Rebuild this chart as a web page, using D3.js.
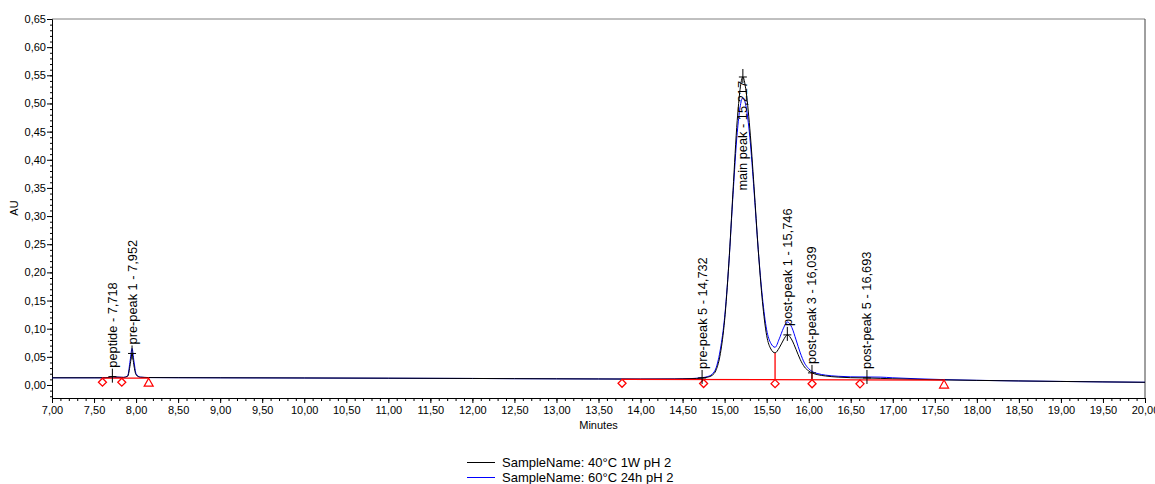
<!DOCTYPE html>
<html>
<head>
<meta charset="utf-8">
<script src="https://cdn.jsdelivr.net/npm/d3@7"></script>
<style>
body { margin: 0; background: #fff; }
text { font-family: "Liberation Sans", Arial, sans-serif; }
</style>
</head>
<body>
<div id="chart"></div>
<script>

// retention times (minutes) shared by both traces
var times = [7.00, 7.50, 7.60, 7.68, 7.718, 7.76, 7.85, 7.90, 7.93, 7.952, 7.975, 8.00, 8.05, 8.15, 8.50,
    9.00, 10.00, 11.00, 12.00, 12.50, 13.00, 13.50, 14.00, 14.40, 14.60, 14.732, 14.80, 14.85, 14.90,
    14.95, 15.00, 15.05, 15.10, 15.15, 15.217, 15.25, 15.30, 15.35, 15.40, 15.45, 15.50, 15.55, 15.60,
    15.65, 15.70, 15.746, 15.80, 15.85, 15.90, 15.95, 16.00, 16.039, 16.10, 16.20, 16.35, 16.50, 16.693,
    16.85, 17.00, 17.30, 17.62, 18.00, 18.50, 19.00, 19.50, 20.00];

// AU, SampleName: 40°C 1W pH 2
var black40 = [0.0128, 0.0128, 0.0128, 0.0135, 0.0148, 0.0140, 0.0135, 0.0155, 0.0360, 0.0560, 0.0340, 0.0180, 0.0138, 0.0132, 0.0130,
    0.0128, 0.0125, 0.0121, 0.0116, 0.0113, 0.0110, 0.0107, 0.0105, 0.0106, 0.0112, 0.0125, 0.0140, 0.0170, 0.0270,
    0.0560, 0.1150, 0.2150, 0.3450, 0.4700, 0.5470, 0.5270, 0.4550, 0.3520, 0.2400, 0.1480, 0.0880, 0.0640, 0.0570,
    0.0660, 0.0800, 0.0890, 0.0800, 0.0630, 0.0450, 0.0320, 0.0250, 0.0215, 0.0185, 0.0160, 0.0140, 0.0130, 0.0125,
    0.0118, 0.0110, 0.0100, 0.0090, 0.0082, 0.0072, 0.0063, 0.0055, 0.0048];

// AU, SampleName: 60°C 24h pH 2
var blue60 = [0.0128, 0.0128, 0.0128, 0.0133, 0.0145, 0.0140, 0.0135, 0.0165, 0.0440, 0.0650, 0.0420, 0.0200, 0.0140, 0.0132, 0.0130,
    0.0128, 0.0124, 0.0120, 0.0116, 0.0112, 0.0110, 0.0107, 0.0105, 0.0107, 0.0114, 0.0130, 0.0150, 0.0190, 0.0310,
    0.0640, 0.1200, 0.2150, 0.3380, 0.4480, 0.5100, 0.4980, 0.4400, 0.3450, 0.2400, 0.1550, 0.0980, 0.0740, 0.0670,
    0.0820, 0.1010, 0.1120, 0.1020, 0.0800, 0.0570, 0.0390, 0.0290, 0.0240, 0.0205, 0.0175, 0.0155, 0.0145, 0.0142,
    0.0140, 0.0128, 0.0110, 0.0095, 0.0083, 0.0072, 0.0063, 0.0055, 0.0048];

// peak annotations
var peakNames = ["peptide", "pre-peak 1", "pre-peak 5", "main peak", "post-peak 1", "post-peak 3", "post-peak 5"];
var peakTimes = [7.718, 7.952, 14.732, 15.217, 15.746, 16.039, 16.693];
var peakHeights = [0.0148, 0.0560, 0.0125, 0.5470, 0.0890, 0.0215, 0.0125];

// integration baselines (red)
var baseStart = [7.60, 13.78];
var baseEnd = [8.15, 17.62];
var baseStartVal = [0.0121, 0.0101];
var baseEndVal = [0.0121, 0.0088];

// drop lines from baseline to the valley
var dropTimes = [15.60, 16.039];
var dropTops = [0.0570, 0.0215];

// start / end markers
var diamondTimes = [7.60, 7.83, 13.78, 14.75, 15.60, 16.04, 16.61];
var triangleTimes = [8.15, 17.61];

var legendNames = ["SampleName: 40°C 1W pH 2", "SampleName: 60°C 24h pH 2"];
var legendColors = ["#000000", "#0000ff"];

var xMajor = d3.range(14, 41).map(function(i) { return i / 2; });
var xMinor = d3.range(70, 201).map(function(i) { return i / 10; });
var yMajor = d3.range(0, 14).map(function(i) { return i * 0.05; });
var yMinor = d3.range(-2, 66).map(function(i) { return i / 100; });

var margin = {top: 19, right: 10, bottom: 86, left: 52};
var width = 1155 - margin.left - margin.right,
    height = 484 - margin.top - margin.bottom;

var svg = d3.select("#chart").append("svg")
    .attr("width", 1155)
    .attr("height", 484);

var g = svg.append("g")
    .attr("transform", "translate(" + margin.left + "," + margin.top + ")");

var x = d3.scaleLinear().domain([7, 20]).range([0, width]);
var y = d3.scaleLinear().domain([-0.0231, 0.65]).range([height, 0]);

var comma = d3.formatLocale({decimal: ",", thousands: ".", grouping: [3], currency: ["", ""]});
var fmt2 = comma.format(".2f");
var fmt3 = comma.format(".3f");

// frame
g.append("line").attr("x1", 0).attr("x2", width).attr("y1", 0).attr("y2", 0)
    .attr("stroke", "#808080");
g.append("line").attr("x1", width).attr("x2", width).attr("y1", 0).attr("y2", height)
    .attr("stroke", "#404040");

// axes
g.append("g")
    .call(d3.axisLeft(y).tickValues(yMinor).tickSize(2).tickSizeOuter(0).tickFormat(""));
var yAxis = g.append("g")
    .call(d3.axisLeft(y).tickValues(yMajor).tickSize(5).tickSizeOuter(0).tickPadding(1).tickFormat(fmt2));
g.append("g")
    .attr("transform", "translate(0," + height + ")")
    .call(d3.axisBottom(x).tickValues(xMinor).tickSize(3).tickSizeOuter(0).tickFormat(""));
var xAxis = g.append("g")
    .attr("transform", "translate(0," + height + ")")
    .call(d3.axisBottom(x).tickValues(xMajor).tickSize(5).tickSizeOuter(0).tickPadding(3).tickFormat(fmt2));

[yAxis, xAxis].forEach(function(a) {
    a.selectAll("text").attr("font-size", 11).attr("font-family", null).attr("fill", "#000");
});
g.selectAll(".domain, .tick line").attr("stroke", "#000");

g.append("text")
    .attr("transform", "translate(" + (14 - margin.left) + "," + (208 - margin.top) + ") rotate(-90)")
    .attr("text-anchor", "middle")
    .attr("dy", "0.35em")
    .attr("font-size", 11)
    .text("AU");

g.append("text")
    .attr("x", width / 2)
    .attr("y", 425 - margin.top)
    .attr("text-anchor", "middle")
    .attr("dy", "0.35em")
    .attr("font-size", 11)
    .text("Minutes");

// traces
var line = d3.line()
    .x(function(d) { return x(d[0]); })
    .y(function(d) { return y(d[1]); })
    .curve(d3.curveMonotoneX);

[blue60, black40].forEach(function(vals, i) {
    g.append("path")
        .datum(times.map(function(t, j) { return [t, vals[j]]; }))
        .attr("fill", "none")
        .attr("stroke", i == 0 ? "#0000ff" : "#000000")
        .attr("stroke-width", 1)
        .attr("d", line);
});

// baselines
function baseAt(t) {
    for (var i = 0; i < baseStart.length; i++) {
        if (t >= baseStart[i] - 0.03 && t <= baseEnd[i] + 0.03) {
            var f = (t - baseStart[i]) / (baseEnd[i] - baseStart[i]);
            return baseStartVal[i] + f * (baseEndVal[i] - baseStartVal[i]);
        }
    }
    return 0.01;
}

baseStart.forEach(function(t, i) {
    g.append("line")
        .attr("x1", x(t)).attr("x2", x(baseEnd[i]))
        .attr("y1", y(baseStartVal[i])).attr("y2", y(baseEndVal[i]))
        .attr("stroke", "#ff0000")
        .attr("stroke-width", 1.3);
});

dropTimes.forEach(function(t, i) {
    g.append("line")
        .attr("x1", x(t)).attr("x2", x(t))
        .attr("y1", y(baseAt(t))).attr("y2", y(dropTops[i]))
        .attr("stroke", "#ff0000")
        .attr("stroke-width", 1.3);
});

g.selectAll(".diamond")
    .data(diamondTimes)
    .enter().append("path")
    .attr("class", "diamond")
    .attr("d", "M0,-4L4,0L0,4L-4,0Z")
    .attr("transform", function(d) { return "translate(" + x(d) + "," + (y(baseAt(d)) + 4) + ")"; })
    .attr("fill", "#fff")
    .attr("stroke", "#ff0000")
    .attr("stroke-width", 1.3);

g.selectAll(".tri")
    .data(triangleTimes)
    .enter().append("path")
    .attr("class", "tri")
    .attr("d", "M0,-4L4.5,4L-4.5,4Z")
    .attr("transform", function(d) { return "translate(" + x(d) + "," + (y(baseAt(d)) + 4) + ")"; })
    .attr("fill", "#fff")
    .attr("stroke", "#ff0000")
    .attr("stroke-width", 1.2);

// peak labels
peakTimes.forEach(function(t, i) {
    var px = x(t), py = y(peakHeights[i]);
    g.append("line").attr("x1", px).attr("x2", px).attr("y1", py - 8).attr("y2", py + 6).attr("stroke", "#000");
    g.append("line").attr("x1", px - 4).attr("x2", px + 4).attr("y1", py).attr("y2", py).attr("stroke", "#000");
    var lbl = g.append("text")
        .attr("font-size", 12.8)
        .attr("dy", "0.35em")
        .text(peakNames[i] + " - " + fmt3(t));
    var len = lbl.node().getComputedTextLength();
    if (py - 10 - len < 0) {
        // no room above: end the label at the apex
        lbl.attr("text-anchor", "end")
            .attr("transform", "translate(" + px + "," + (py + 4) + ") rotate(-90)");
    } else {
        lbl.attr("text-anchor", "start")
            .attr("transform", "translate(" + px + "," + (py - 9) + ") rotate(-90)");
    }
});

// legend
var legend = svg.selectAll(".legend")
    .data(legendNames)
    .enter().append("g")
    .attr("class", "legend")
    .attr("transform", function(d, i) { return "translate(467," + (462.5 + i * 15) + ")"; });

legend.append("line")
    .attr("x1", 0).attr("x2", 28)
    .attr("stroke", function(d, i) { return legendColors[i]; });

legend.append("text")
    .attr("x", 35)
    .attr("dy", "0.35em")
    .attr("font-size", 13)
    .text(function(d) { return d; });

</script>
</body>
</html>
